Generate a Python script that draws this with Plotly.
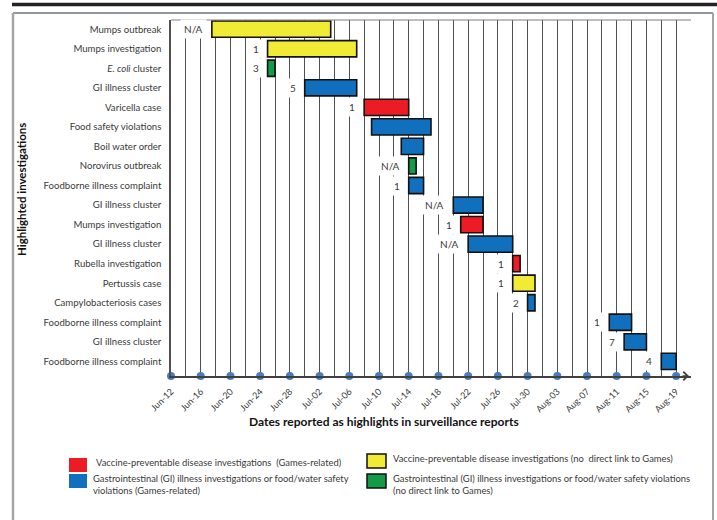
import pandas as pd
import plotly.graph_objects as go

# ---------------- data ----------------
row_labels = [
    "Mumps outbreak", "Mumps investigation", "<i>E. coli</i> cluster", "GI illness cluster",
    "Varicella case", "Food safety violations", "Boil water order", "Norovirus outbreak",
    "Foodborne illness complaint", "GI illness cluster", "Mumps investigation",
    "GI illness cluster", "Rubella investigation", "Pertussis case",
    "Campylobacteriosis cases", "Foodborne illness complaint", "GI illness cluster",
    "Foodborne illness complaint",
]
start_dates = [
    "2015-06-17 12:00", "2015-06-25", "2015-06-25", "2015-06-30", "2015-07-08", "2015-07-09",
    "2015-07-13", "2015-07-14", "2015-07-14", "2015-07-20", "2015-07-21", "2015-07-22",
    "2015-07-28", "2015-07-28", "2015-07-30", "2015-08-10", "2015-08-12", "2015-08-17",
]
end_dates = [
    "2015-07-03 12:00", "2015-07-07", "2015-06-26", "2015-07-07", "2015-07-14", "2015-07-17",
    "2015-07-16", "2015-07-15", "2015-07-16", "2015-07-24", "2015-07-24", "2015-07-28",
    "2015-07-29", "2015-07-31", "2015-07-31", "2015-08-13", "2015-08-15", "2015-08-19",
]
row_groups = [
    "vpd_nolink", "vpd_nolink", "gi_nolink", "gi_games", "vpd_games", "gi_games",
    "gi_games", "gi_nolink", "gi_games", "gi_games", "vpd_games", "gi_games",
    "vpd_games", "vpd_nolink", "gi_games", "gi_games", "gi_games", "gi_games",
]
count_labels = ["N/A", "1", "3", "5", "1", "", "", "N/A", "1", "N/A", "1", "N/A",
                "1", "1", "2", "1", "7", "4"]

tick_dates = ["2015-06-12", "2015-06-16", "2015-06-20", "2015-06-24", "2015-06-28",
              "2015-07-02", "2015-07-06", "2015-07-10", "2015-07-14", "2015-07-18",
              "2015-07-22", "2015-07-26", "2015-07-30", "2015-08-03", "2015-08-07",
              "2015-08-11", "2015-08-15", "2015-08-19"]
tick_labels = ["Jun-12", "Jun-16", "Jun-20", "Jun-24", "Jun-28", "Jul-02", "Jul-06",
               "Jul-10", "Jul-14", "Jul-18", "Jul-22", "Jul-26", "Jul-30", "Aug-03",
               "Aug-07", "Aug-11", "Aug-15", "Aug-19"]

group_order = ["vpd_games", "vpd_nolink", "gi_games", "gi_nolink"]
group_names = {
    "vpd_games": "Vaccine-preventable disease investigations  (Games-related)",
    "vpd_nolink": "Vaccine-preventable disease investigations (no  direct link to Games)",
    "gi_games": "Gastrointestinal (GI) illness investigations or food/water safety<br>violations (Games-related)",
    "gi_nolink": "Gastrointestinal (GI) illness investigations or food/water safety violations<br>(no direct link to Games)",
}
group_colors = {"vpd_games": "#ED1C24", "vpd_nolink": "#F2EB35",
                "gi_games": "#1070BE", "gi_nolink": "#139C48"}

x_title = "Dates reported as highlights in surveillance reports"
y_title = "Highlighted investigations"

# ---------------- geometry helpers ----------------
W, H = 717, 520
ML, MR, MT, MB = 171, 26, 20, 144
PW, PH = W - ML - MR, H - MT - MB


def px(xp):
    return (xp - ML) / PW


def py(yp):
    return (H - MB - yp) / PH


FONT = "Lato, 'Liberation Sans', Arial, sans-serif"
TXT = "#3a3a3a"
y_range = [17.75, -0.47]
x_range = ["2015-06-12", "2015-08-21"]

starts = pd.to_datetime(pd.Series(start_dates), format="ISO8601")
ends = pd.to_datetime(pd.Series(end_dates), format="ISO8601")
durations_ms = [float(v) for v in (ends - starts).dt.total_seconds() * 1000]

fig = go.Figure()

for g in group_order:
    idx = [i for i, gg in enumerate(row_groups) if gg == g]
    fig.add_trace(go.Bar(
        orientation="h",
        y=idx,
        base=[start_dates[i] for i in idx],
        x=[durations_ms[i] for i in idx],
        width=0.83,
        marker=dict(color=group_colors[g], line=dict(color="#111111", width=1.6)),
        showlegend=False,
        hoverinfo="skip",
    ))

# dots on the date axis
fig.add_trace(go.Scatter(
    x=tick_dates, y=[y_range[0]] * len(tick_dates), mode="markers",
    marker=dict(color="#4A7EBB", size=8), cliponaxis=False,
    showlegend=False, hoverinfo="skip",
))

annotations = []
for i, lab in enumerate(count_labels):
    if not lab:
        continue
    annotations.append(dict(
        x=start_dates[i], y=i, xref="x", yref="y", text=lab, showarrow=False,
        xanchor="right", yanchor="middle", xshift=-5, bgcolor="white", borderpad=3,
        font=dict(family=FONT, size=10, color=TXT),
    ))

# axis arrow
annotations.append(dict(
    x=x_range[1], y=y_range[0], xref="x", yref="y", ax=-10, ay=0, text="",
    showarrow=True, arrowhead=4, arrowsize=1.3, arrowwidth=1.3, arrowcolor="#404040",
    standoff=2,
))

# axis titles
annotations.append(dict(
    x=px(384), y=py(421), xref="paper", yref="paper", text="<b>%s</b>" % x_title,
    showarrow=False, xanchor="center", yanchor="middle",
    font=dict(family=FONT, size=12, color="#111111"),
))
annotations.append(dict(
    x=px(22), y=py(190), xref="paper", yref="paper", text="<b>%s</b>" % y_title,
    showarrow=False, xanchor="center", yanchor="middle", textangle=-90,
    font=dict(family=FONT, size=11.5, color="#111111"),
))

shapes = []
# legend boxes (pixel positions of the manual legend)
legend_boxes = {
    "vpd_games": (69, 458, 87, 472, False),
    "gi_games": (69, 474, 87, 488, False),
    "vpd_nolink": (367, 454, 386, 468, True),
    "gi_nolink": (367, 474, 386, 488, True),
}
legend_text_pos = {
    "vpd_games": (94, 463),
    "gi_games": (91, 485),
    "vpd_nolink": (391, 458),
    "gi_nolink": (391, 485),
}
for g in group_order:
    x0, y0, x1, y1, border = legend_boxes[g]
    shapes.append(dict(
        type="rect", xref="paper", yref="paper", x0=px(x0), x1=px(x1), y0=py(y0), y1=py(y1),
        fillcolor=group_colors[g],
        line=dict(color="#111111" if border else group_colors[g], width=1.5 if border else 0),
    ))
    tx, ty = legend_text_pos[g]
    annotations.append(dict(
        x=px(tx), y=py(ty), xref="paper", yref="paper", text=group_names[g],
        showarrow=False, xanchor="left", yanchor="middle", align="left",
        font=dict(family=FONT, size=9.4, color=TXT),
    ))

# plot area top border
shapes.append(dict(type="line", xref="paper", yref="paper", x0=0, x1=1, y0=1, y1=1,
                   line=dict(color="#808080", width=1.2)))
# outer frame
shapes.append(dict(type="line", xref="paper", yref="paper", x0=px(13), x1=px(713),
                   y0=py(13), y1=py(13), line=dict(color="#6B757E", width=1.5)))
shapes.append(dict(type="line", xref="paper", yref="paper", x0=px(13), x1=px(13),
                   y0=py(13), y1=py(530), line=dict(color="#A3A6A9", width=2.5)))
shapes.append(dict(type="line", xref="paper", yref="paper", x0=px(713), x1=px(713),
                   y0=py(13), y1=py(530), line=dict(color="#A3A6A9", width=2)))
# thick black top rule
shapes.append(dict(type="line", xref="paper", yref="paper", x0=px(12), x1=px(717),
                   y0=py(4.5), y1=py(4.5), line=dict(color="#222222", width=3.5)))

fig.update_layout(
    width=W, height=H,
    margin=dict(l=ML, r=MR, t=MT, b=MB, autoexpand=False),
    paper_bgcolor="white", plot_bgcolor="white",
    barmode="overlay",
    font=dict(family=FONT, color=TXT),
    annotations=annotations,
    shapes=shapes,
    showlegend=False,
    xaxis=dict(
        type="date", range=x_range, automargin=False,
        tickmode="array", tickvals=tick_dates, ticktext=tick_labels, tickangle=-45,
        tickfont=dict(family=FONT, size=9, color=TXT),
        ticks="outside", ticklen=5, tickcolor="rgba(0,0,0,0)",
        showgrid=True, gridcolor="#505050", gridwidth=1.3,
        minor=dict(tickmode="linear", tick0="2015-06-12", dtick=2 * 86400000,
                   showgrid=True, gridcolor="#505050", gridwidth=1.3, ticks=""),
        showline=True, linecolor="#404040", linewidth=1.5,
        zeroline=False, fixedrange=True,
    ),
    yaxis=dict(
        range=y_range, automargin=False,
        tickmode="array", tickvals=list(range(len(row_labels))),
        ticktext=row_labels, tickfont=dict(family=FONT, size=9.6, color=TXT),
        ticks="outside", ticklen=6, tickcolor="rgba(0,0,0,0)",
        showgrid=False, zeroline=False,
        showline=True, linecolor="#505050", linewidth=1.5, fixedrange=True,
    ),
)

fig.write_html(
    "out.html",
    config={"displayModeBar": False},
    post_script="document.body.style.margin='0px';document.body.style.overflow='hidden';",
)
